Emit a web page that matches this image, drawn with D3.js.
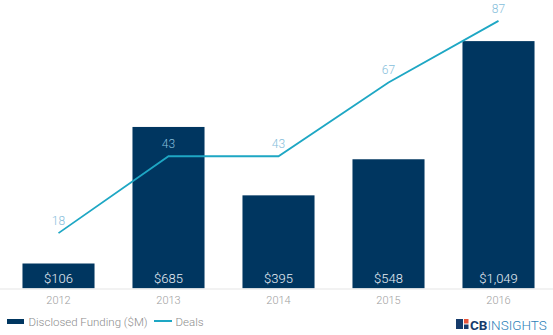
<!DOCTYPE html>
<html><head><meta charset="utf-8">
<script src="https://cdn.jsdelivr.net/npm/d3@7"></script>
<style>body{margin:0;background:#fff;font-family:Roboto,sans-serif;}</style>
</head><body>
<svg id="c" width="553" height="335"></svg>
<script>
const years = ["2012","2013","2014","2015","2016"];
const funding = [106,685,395,548,1049];
const fundingLabels = ["$106","$685","$395","$548","$1,049"];
const deals = [18,43,43,67,87];

const svg = d3.select("#c");
const baseY = 288.5, topY = 5.5;
const x = d3.scaleBand().domain(years).range([3.5,553.5]).paddingInner(0.345).paddingOuter(0.1725);
const yBar = d3.scaleLinear().domain([0,1200]).range([baseY, topY]);
const yLine = d3.scaleLinear().domain([0,92]).range([baseY, topY]);

const navy = "#003660", teal = "#1ea7c4";

svg.append("g").selectAll("rect").data(years).join("rect")
  .attr("x", d => x(d)).attr("width", x.bandwidth())
  .attr("y", (d,i) => yBar(funding[i])).attr("height", (d,i) => baseY - yBar(funding[i]))
  .attr("fill", navy);

svg.append("line").attr("x1",0).attr("x2",553).attr("y1",baseY+0.5).attr("y2",baseY+0.5)
  .attr("stroke","#eeeeee").attr("stroke-width",1.5);

svg.append("g").selectAll("text").data(years).join("text")
  .attr("x", d => x(d)+x.bandwidth()/2).attr("y", baseY-5.5)
  .attr("text-anchor","middle").attr("fill","#e8eef5").attr("font-size",13).attr("font-weight",300)
  .text((d,i) => fundingLabels[i]);

const xAxis = d3.axisBottom(x).tickSize(0).tickPadding(8);
const ag = svg.append("g").attr("transform",`translate(0,${baseY})`).call(xAxis);
ag.select(".domain").remove();
ag.selectAll("text").attr("fill","#a0a0a0").attr("font-size",11).attr("font-weight",300).attr("font-family","Roboto, sans-serif");

const line = d3.line().x((d,i) => x(years[i])+x.bandwidth()/2).y(d => yLine(d));
svg.append("path").datum(deals).attr("d", line).attr("fill","none")
  .attr("stroke", teal).attr("stroke-width",1.8);

svg.append("g").selectAll("text").data(deals).join("text")
  .attr("x",(d,i) => x(years[i])+x.bandwidth()/2).attr("y", d => yLine(d)-8)
  .attr("text-anchor","middle").attr("fill","#86bedb").attr("font-size",12).attr("font-weight",300)
  .text(d => d);

// legend
const lg = svg.append("g");
lg.append("rect").attr("x",7).attr("y",319).attr("width",17).attr("height",5).attr("fill",navy);
lg.append("text").attr("x",28.5).attr("y",325.5).attr("fill","#8c8c8c").attr("font-size",11.5).attr("font-weight",300).text("Disclosed Funding ($M)");
lg.append("line").attr("x1",154).attr("x2",172).attr("y1",321).attr("y2",321).attr("stroke",teal).attr("stroke-width",2);
lg.append("text").attr("x",175.5).attr("y",325.5).attr("fill","#8c8c8c").attr("font-size",11.5).attr("font-weight",300).text("Deals");

// logo
const logo = svg.append("g");
logo.append("rect").attr("x",456).attr("y",319).attr("width",7).attr("height",10).attr("fill","#163b6b");
logo.append("rect").attr("x",464).attr("y",319).attr("width",4.5).attr("height",4.5).attr("fill","#e8543a");
logo.append("rect").attr("x",464).attr("y",324.5).attr("width",4.5).attr("height",4.5).attr("fill","#163b6b");
const lt = logo.append("text").attr("x",470).attr("y",329.5).attr("font-size",13.5);
lt.append("tspan").attr("font-weight","bold").attr("fill","#163b6b").text("CB");
lt.append("tspan").attr("fill","#2d7fb8").attr("font-weight","300").text("INSIGHTS");
</script>
</body></html>
